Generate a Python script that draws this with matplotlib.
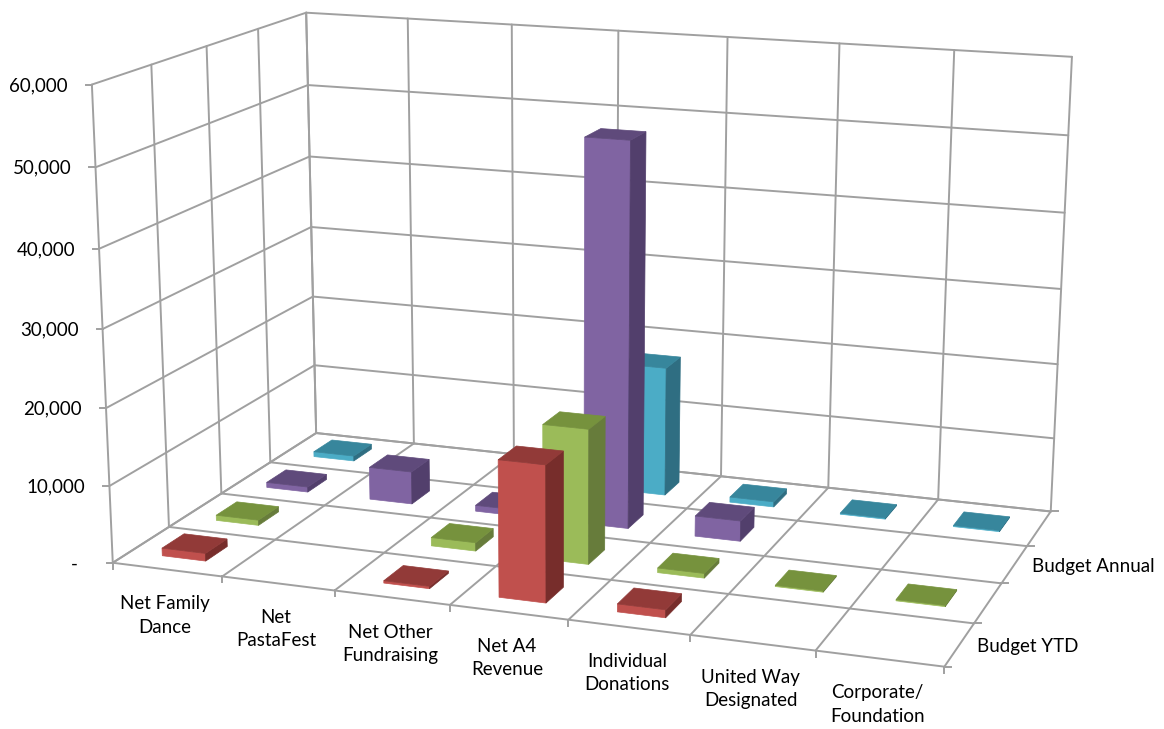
import numpy as np
import matplotlib
matplotlib.use("Agg")
import matplotlib.pyplot as plt

plt.rcParams['font.family'] = ['Lato', 'DejaVu Sans']

categories = ["Net Family\nDance", "Net\nPastaFest", "Net Other\nFundraising", "Net A4\nRevenue",
              "Individual\nDonations", "United Way\nDesignated", "Corporate/\nFoundation"]
z_ticks = [0, 10000, 20000, 30000, 40000, 50000, 60000]
z_labels = ["-", "10,000", "20,000", "30,000", "40,000", "50,000", "60,000"]

# one list per depth row, front to back
row_labels = ["Budget YTD", "", "Budget Annual", ""]
row0 = [1000, 0, 300, 17300, 1000, 0, 0]
row1 = [700, 0, 1100, 17500, 600, 150, 150]
row2 = [700, 4400, 800, 50700, 2700, 0, 0]
row3 = [700, 0, 500, 17500, 700, 150, 150]
rows = [row0, row1, row2, row3]

# front, top, side shades for each row
row_colors = [("#C0504D", "#923A38", "#772D2B"),
              ("#9BBB59", "#76923D", "#677C3B"),
              ("#8064A2", "#5F4A7B", "#523F6C"),
              ("#4BACC6", "#37869C", "#2F6E82")]

n_x = len(categories)
n_y = len(rows)
z_max = z_ticks[-1]
grid_color = "#A0A0A0"

# box corners on the canvas, used to solve the perspective camera
box_3d = [(0, 0, 0), (n_x, 0, 0), (n_x, n_y, 0), (0, n_y, 0),
          (0, 0, 1), (0, n_y, 1), (n_x, n_y, 1)]
box_px = [(113, 563), (944, 667), (1051, 511), (316, 433),
          (92, 84), (306, 13), (1072, 57)]


def solve_camera(pts3, pts2):
    """Direct linear transform from 3D box corners to canvas pixels."""
    a = []
    for (x, y, z), (u, v) in zip(pts3, pts2):
        a.append([x, y, z, 1, 0, 0, 0, 0, -u * x, -u * y, -u * z, -u])
        a.append([0, 0, 0, 0, x, y, z, 1, -v * x, -v * y, -v * z, -v])
    return np.linalg.svd(np.array(a, dtype=float))[2][-1].reshape(3, 4)


cam = solve_camera(box_3d, box_px)


def project(x, y, z):
    h = cam @ np.array([x, y, z / z_max, 1.0])
    return h[0] / h[2], h[1] / h[2]


def line3d(ax, p, q):
    a = project(*p)
    b = project(*q)
    ax.plot([a[0], b[0]], [a[1], b[1]], color=grid_color, lw=1.4, solid_capstyle="round", zorder=1)


def face(ax, corners, color):
    pts = [project(*c) for c in corners]
    ax.fill([p[0] for p in pts], [p[1] for p in pts], facecolor=color, edgecolor=color, lw=0.5, zorder=3)


def draw_bar(ax, i, j, value, colors, width=0.4, depth=0.4):
    x0 = i + (1 - width) / 2
    x1 = x0 + width
    y0 = j + (1 - depth) / 2
    y1 = y0 + depth
    front, top, side = colors
    face(ax, [(x0, y0, 0), (x1, y0, 0), (x1, y0, value), (x0, y0, value)], front)
    face(ax, [(x1, y0, 0), (x1, y1, 0), (x1, y1, value), (x1, y0, value)], side)
    face(ax, [(x0, y0, value), (x1, y0, value), (x1, y1, value), (x0, y1, value)], top)


fig = plt.figure(figsize=(11.64, 7.29), dpi=100)
ax = fig.add_axes([0, 0, 1, 1])
ax.set_xlim(0, 1164)
ax.set_ylim(729, 0)
ax.axis("off")

# walls and floor grid
for z, label in zip(z_ticks, z_labels):
    line3d(ax, (0, 0, z), (0, n_y, z))
    line3d(ax, (0, n_y, z), (n_x, n_y, z))
    px, py = project(0, 0, z)
    ax.plot([px - 6, px], [py, py], color=grid_color, lw=1.4, zorder=1)
    offset = 35 if z == 0 else 24
    ax.text(px - offset, py + 1, label, ha="right", va="center", fontsize=13.5)
for i in range(n_x + 1):
    line3d(ax, (i, 0, 0), (i, n_y, 0))
    line3d(ax, (i, n_y, 0), (i, n_y, z_max))
    px, py = project(i, 0, 0)
    ax.plot([px, px], [py, py + 6], color=grid_color, lw=1.4, zorder=1)
for j in range(n_y + 1):
    line3d(ax, (0, j, 0), (n_x, j, 0))
    line3d(ax, (0, j, 0), (0, j, z_max))
    px, py = project(n_x, j, 0)
    ax.plot([px, px + 7], [py, py], color=grid_color, lw=1.4, zorder=1)

# back rows first, and left to right since the camera sits to the right
for j in reversed(range(n_y)):
    for i in range(n_x):
        if rows[j][i] > 0:
            draw_bar(ax, i, j, rows[j][i], row_colors[j])

for i, name in enumerate(categories):
    px, py = project(i + 0.5, 0, 0)
    ax.text(px - 2, py + 46, name, ha="center", va="center", fontsize=13.5, linespacing=1.44)

for j, name in enumerate(row_labels):
    if name:
        px, py = project(n_x, j + 0.5, 0)
        ax.text(px + 18, py + 2, name, ha="left", va="center", fontsize=13.5)

fig.savefig("out.png", dpi=100)
